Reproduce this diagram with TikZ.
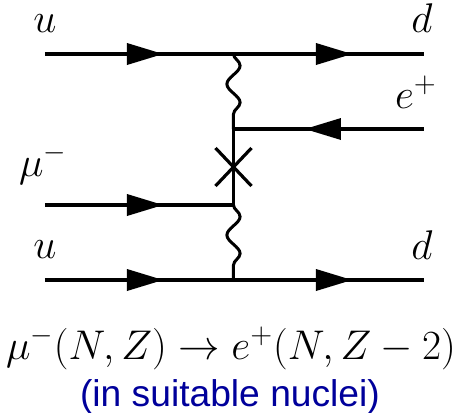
\documentclass[tikz,border=0pt]{standalone}
\usepackage{fontspec}
\newfontfamily\helv{Liberation Sans}
\usetikzlibrary{calc,decorations.pathmorphing}
\definecolor{navyblue}{RGB}{0,0,155}
\begin{document}
\begin{tikzpicture}[x=0.5pt,y=-0.5pt,
  fermion/.style={line width=1.6pt},
  photon/.style={line width=1.5pt, decorate,
    decoration={snake, amplitude=3.3pt, segment length=18.5pt}},
  lbl/.style={font=\fontsize{20}{24}\selectfont, anchor=base, inner sep=0pt},
  farrow/.pic={\fill (0,0) -- (-36,-11) -- (-36,11) -- cycle;}]
\useasboundingbox (0,0) rectangle (462,413);
% vertices
\coordinate (uL) at (45,54);
\coordinate (uR) at (424,54);
\coordinate (vtop) at (233.5,54);
\coordinate (eR) at (424,129);
\coordinate (vE) at (233.5,129);
\coordinate (muL) at (45,205);
\coordinate (vMu) at (233.5,205);
\coordinate (dL) at (45,280);
\coordinate (dR) at (424,280);
\coordinate (vbot) at (233.5,280);
\coordinate (X) at (233.5,167);
% fermion lines
\draw[fermion] (uL) -- (uR);
\draw[fermion] (vE) -- (eR);
\draw[fermion] (muL) -- (vMu);
\draw[fermion] (dL) -- (dR);
\draw[fermion] (vE) -- (vMu);
% photons
\draw[photon] (vtop) -- (vE);
\draw[photon] (vMu) -- (vbot);
% cross
\draw[fermion] ($(X)+(-18,-19)$) -- ($(X)+(18,19)$);
\draw[fermion] ($(X)+(-18,19)$) -- ($(X)+(18,-19)$);
% arrows
\pic at (163,54) {farrow};
\pic at (352,54) {farrow};
\pic[rotate=180] at (305,129) {farrow};
\pic at (163,205) {farrow};
\pic at (163,280) {farrow};
\pic at (352,280) {farrow};
% labels
\node[lbl] (lu1) at (45,32) {$u$};
\node[lbl] (ld1) at (422,32) {$d$};
\node[lbl] (le) at (416,108) {$e^+$};
\node[lbl] (lmu) at (43,176) {$\mu^-$};
\node[lbl] (lu2) at (45,258) {$u$};
\node[lbl] (ld2) at (422,259) {$d$};
\node[anchor=base, inner sep=0pt, font=\fontsize{19.4}{24}\selectfont] (formula) at (231,359)
  {$\mu^-(N,Z)\to e^+(N,Z-2)$};
\node[anchor=base, inner sep=0pt, text=navyblue, font=\helv\fontsize{18.6}{22}\selectfont] (note) at (230,406)
  {(in suitable nuclei)};
\end{tikzpicture}
\end{document}
